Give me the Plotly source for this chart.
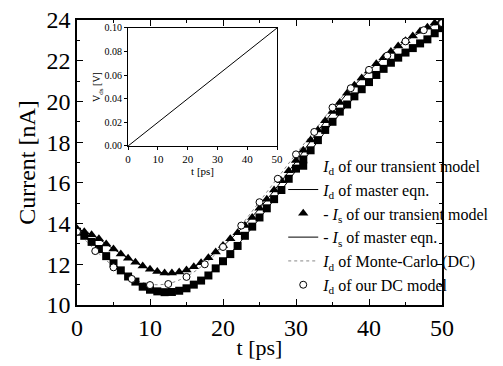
import plotly.graph_objects as go

# time grids [ps]
t_fine = list(range(0, 51))                      # 1 ps steps
t_coarse = [i * 2.5 for i in range(21)]          # 2.5 ps steps

# I_d of our transient model [nA]
id_transient = [13.6, 13.4, 13.1, 12.75, 12.4, 12.05, 11.7, 11.4, 11.15, 10.9,
                10.75, 10.67, 10.63, 10.64, 10.7, 10.82, 11.0, 11.2, 11.45, 11.8,
                12.15, 12.5, 12.9, 13.4, 13.85, 14.3, 14.75, 15.2, 15.65, 16.2,
                16.7, 17.15, 17.6, 18.1, 18.6, 19.0, 19.5, 19.85, 20.25, 20.6,
                20.95, 21.3, 21.6, 21.9, 22.15, 22.4, 22.62, 22.85, 23.05, 23.35,
                23.6]

# -I_s of our transient model [nA]
is_transient = [13.75, 13.6, 13.45, 13.25, 13.0, 12.75, 12.5, 12.3, 12.1, 11.92,
                11.75, 11.65, 11.57, 11.57, 11.62, 11.72, 11.88, 12.08, 12.32, 12.6,
                12.92, 13.25, 13.55, 13.9, 14.3, 14.75, 15.2, 15.65, 16.1, 16.6,
                17.1, 17.6, 18.1, 18.6, 19.05, 19.5, 19.95, 20.4, 20.8, 21.15,
                21.5, 21.85, 22.15, 22.45, 22.72, 22.98, 23.22, 23.45, 23.65, 23.85,
                24.0]

# I_d of master equation [nA]
id_master = [13.6, 12.95, 12.05, 11.3, 10.8, 10.62, 10.8, 11.35, 12.15, 13.15,
             14.25, 15.4, 16.6, 17.8, 18.95, 20.0, 20.95, 21.8, 22.45, 23.0, 23.55]

# -I_s of master equation [nA]
is_master = [13.75, 13.35, 12.75, 12.2, 11.75, 11.55, 11.7, 12.2, 12.9, 13.75,
             14.75, 15.85, 17.05, 18.3, 19.5, 20.6, 21.5, 22.3, 22.95, 23.5, 24.0]

# I_d of Monte-Carlo (DC) [nA]
id_mc = [13.6, 12.7, 11.9, 11.32, 11.02, 11.05, 11.4, 12.02, 12.88, 13.92,
         15.08, 16.25, 17.42, 18.55, 19.7, 20.68, 21.55, 22.28, 22.95, 23.5, 23.88]

# I_d of our DC model [nA]
id_dc = [13.6, 12.65, 11.85, 11.28, 10.98, 11.03, 11.38, 12.0, 12.85, 13.9,
         15.05, 16.2, 17.4, 18.5, 19.7, 20.65, 21.55, 22.25, 22.95, 23.5, 23.85]

# inset: applied bias ramp
t_inset = [0, 50]
v_inset = [0.0, 0.1]

SERIF = "Liberation Serif"

fig = go.Figure()

# curves first, symbols on top
fig.add_trace(go.Scatter(x=t_coarse, y=id_master, mode="lines", line_shape="spline",
                         line=dict(color="black", width=1),
                         name="<i>I</i><sub>d</sub> of master eqn.", legendrank=2))
fig.add_trace(go.Scatter(x=t_coarse, y=is_master, mode="lines", line_shape="spline",
                         line=dict(color="black", width=1),
                         name="- <i>I</i><sub>s</sub> of master eqn.", legendrank=4))
fig.add_trace(go.Scatter(x=t_coarse, y=id_mc, mode="lines", line_shape="spline",
                         line=dict(color="#888888", width=1, dash="dot"),
                         name="<i>I</i><sub>d</sub> of Monte-Carlo (DC)", legendrank=5))
fig.add_trace(go.Scatter(x=t_fine, y=id_transient, mode="markers",
                         marker=dict(symbol="square", size=8, color="black"),
                         name="<i>I</i><sub>d</sub> of our transient model", legendrank=1))
fig.add_trace(go.Scatter(x=t_fine, y=is_transient, mode="markers",
                         marker=dict(symbol="triangle-up", size=9, color="black"),
                         name="- <i>I</i><sub>s</sub> of our transient model", legendrank=3))
fig.add_trace(go.Scatter(x=t_coarse, y=id_dc, mode="markers",
                         marker=dict(symbol="circle", size=7, color="white",
                                     line=dict(color="black", width=1)),
                         name="<i>I</i><sub>d</sub> of our DC model", legendrank=6))

# inset
fig.add_trace(go.Scatter(x=t_inset, y=v_inset, mode="lines", xaxis="x2", yaxis="y2",
                         line=dict(color="black", width=1), showlegend=False))

main_axis = dict(showline=True, linecolor="black", linewidth=1.5, mirror="allticks",
                 ticks="inside", ticklen=6, tickwidth=1.2, tickcolor="black",
                 showgrid=False, zeroline=False,
                 tickfont=dict(family=SERIF, size=24, color="black"))

fig.update_layout(
    width=503, height=366,
    margin=dict(l=77, r=61, t=20, b=61, autoexpand=False),
    paper_bgcolor="white", plot_bgcolor="white",
    showlegend=True,
    legend=dict(x=0.565, y=0.548, xanchor="left", yanchor="top",
                bgcolor="rgba(0,0,0,0)", borderwidth=0,
                font=dict(family=SERIF, size=16, color="black"),
                tracegroupgap=0, itemwidth=30),
    xaxis=dict(range=[0, 50], tickvals=[0, 10, 20, 30, 40, 50],
               minor=dict(dtick=5, ticks="inside", ticklen=3, tickcolor="black"),
               title=dict(text="t [ps]", font=dict(family=SERIF, size=22, color="black"),
                          standoff=0),
               **main_axis),
    yaxis=dict(range=[10, 24], tickvals=[10, 12, 14, 16, 18, 20, 22, 24],
               minor=dict(dtick=1, ticks="inside", ticklen=3, tickcolor="black"),
               title=dict(text="Current [nA]", font=dict(family=SERIF, size=24, color="black"),
                          standoff=4),
               **main_axis),
    xaxis2=dict(domain=[0.14, 0.548], anchor="y2", range=[0, 50],
                tickvals=[0, 10, 20, 30, 40, 50],
                showline=True, linecolor="black", linewidth=1, mirror=True,
                ticks="outside", ticklen=3, tickcolor="black", showgrid=False, zeroline=False,
                tickfont=dict(family=SERIF, size=11, color="black"),
                title=dict(text="t [ps]", font=dict(family=SERIF, size=11, color="black"),
                           standoff=0)),
    yaxis2=dict(domain=[0.558, 0.972], anchor="x2", range=[0, 0.1],
                tickvals=[0, 0.02, 0.04, 0.06, 0.08, 0.10], tickformat=".2f",
                showline=True, linecolor="black", linewidth=1, mirror=True,
                ticks="outside", ticklen=3, tickcolor="black", showgrid=False, zeroline=False,
                tickfont=dict(family=SERIF, size=10, color="black"),
                title=dict(text="V<sub>ds</sub> [V]", font=dict(family=SERIF, size=10, color="black"),
                           standoff=0)),
)

fig.write_html("out.html")
